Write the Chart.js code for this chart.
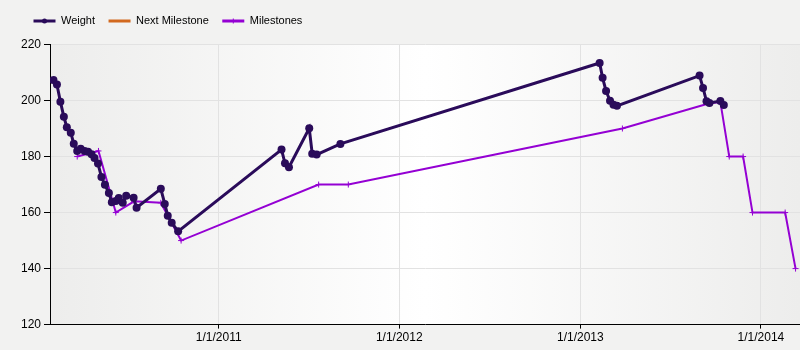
<!DOCTYPE html>
<html>
<head>
<meta charset="utf-8">
<script src="https://cdn.jsdelivr.net/npm/chart.js@4"></script>
<style>
  html, body { margin: 0; padding: 0; background: #f2f2f1; }
  #wrap { width: 800px; height: 350px; position: relative; }
</style>
</head>
<body>
<div id="wrap"><canvas id="c" width="800" height="350"></canvas></div>
<script>
// ---- data ----
const weightDates = [
  '2010-02-01','2010-02-08','2010-02-15','2010-02-22','2010-02-28','2010-03-08','2010-03-14',
  '2010-03-21','2010-03-28','2010-04-05','2010-04-12','2010-04-19','2010-04-25','2010-05-02',
  '2010-05-09','2010-05-16','2010-05-24','2010-05-30','2010-06-07','2010-06-13','2010-06-21',
  '2010-06-28','2010-07-13','2010-07-19','2010-09-06','2010-09-14','2010-09-20','2010-09-28',
  '2010-10-11',
  '2011-05-08','2011-05-15','2011-05-23','2011-07-03','2011-07-09','2011-07-18','2011-09-04',
  '2013-02-09','2013-02-15','2013-02-22','2013-03-02','2013-03-09','2013-03-16',
  '2013-08-30','2013-09-06','2013-09-13','2013-09-19','2013-10-11','2013-10-18'
];
const weightValues = [
  207.3, 205.7, 199.6, 194.2, 190.5, 188.5, 184.6,
  182.0, 182.8, 182.0, 181.7, 180.8, 179.5, 177.5,
  172.7, 169.9, 167.0, 163.7, 164.1, 165.2, 163.5,
  166.0, 165.3, 161.7, 168.5, 163.1, 158.9, 156.4,
  153.3,
  182.5, 177.6, 176.2, 190.1, 181.0, 180.7, 184.5,
  213.4, 208.1, 203.4, 199.9, 198.5, 198.1,
  208.9, 204.5, 199.7, 199.1, 199.8, 198.4
];
const nextMilestoneDates = [];
const nextMilestoneValues = [];
const milestoneDates = [
  '2010-03-21','2010-05-03','2010-06-07','2010-07-14','2010-09-06','2010-10-17',
  '2011-07-22','2011-09-20','2013-03-27','2013-09-19','2013-10-11','2013-10-29',
  '2013-11-26','2013-12-15','2014-02-19','2014-03-12'
];
const milestoneValues = [
  180, 182, 160, 164, 163.5, 150,
  170, 170, 190, 199, 199.5, 180,
  180, 160, 160, 140
];
const xTickYears = [2011, 2012, 2013, 2014];
const xRange = ['2010-01-25', '2014-03-21'];
const yTicks = [120, 140, 160, 180, 200, 220];

// ---- helpers ----
function dayNum(s) {
  const p = s.split('-').map(Number);
  return Date.UTC(p[0], p[1] - 1, p[2]) / 86400000;
}
function pts(dates, vals) { return dates.map((d, i) => ({ x: dayNum(d), y: vals[i] })); }

const FONT = '"Liberation Sans", Arial, sans-serif';
const WEIGHT_COLOR = '#2a0b5a';
const NEXT_COLOR = '#d2691e';
const MILE_COLOR = '#9400d3';

const bgPlugin = {
  id: 'plotBg',
  beforeLayout(chart) {
    const lg = chart.legend;
    if (lg && !lg._patched) {
      const f = lg.fit.bind(lg);
      lg.fit = function () { f(); this.height += 8; };
      lg._patched = true;
    }
  },
  beforeDraw(chart) {
    const { ctx, chartArea: a } = chart;
    const g = ctx.createLinearGradient(a.left, 0, a.right, 0);
    g.addColorStop(0, '#ededec');
    g.addColorStop(0.5, '#ffffff');
    g.addColorStop(1, '#ededec');
    ctx.save();
    ctx.fillStyle = g;
    ctx.fillRect(a.left, a.top, a.right - a.left, a.bottom - a.top);
    ctx.restore();
  }
};

const legendMarkers = {
  id: 'legendMarkers',
  afterDraw(chart) {
    const boxes = chart.legend && chart.legend.legendHitBoxes;
    if (!boxes) return;
    const ctx = chart.ctx;
    const bw = chart.options.plugins.legend.labels.boxWidth;
    ctx.save();
    boxes.forEach((b, i) => {
      const cx = b.left + bw / 2;
      const cy = b.top + b.height / 2;
      if (i === 0) {
        ctx.fillStyle = WEIGHT_COLOR;
        ctx.beginPath(); ctx.arc(cx, cy, 2.5, 0, Math.PI * 2); ctx.fill();
      } else if (i === 2) {
        ctx.strokeStyle = MILE_COLOR; ctx.lineWidth = 1;
        ctx.beginPath(); ctx.moveTo(cx, cy - 2.5); ctx.lineTo(cx, cy + 2.5); ctx.stroke();
      }
    });
    ctx.restore();
  }
};

new Chart(document.getElementById('c'), {
  type: 'line',
  data: {
    datasets: [
      {
        label: 'Weight',
        data: pts(weightDates, weightValues),
        borderColor: WEIGHT_COLOR, backgroundColor: WEIGHT_COLOR,
        borderWidth: 3, pointRadius: 4, pointHoverRadius: 4,
        pointBackgroundColor: WEIGHT_COLOR, pointBorderWidth: 0, tension: 0
      },
      {
        label: 'Next Milestone',
        data: pts(nextMilestoneDates, nextMilestoneValues),
        borderColor: NEXT_COLOR, backgroundColor: NEXT_COLOR,
        borderWidth: 2, pointRadius: 0, tension: 0
      },
      {
        label: 'Milestones',
        data: pts(milestoneDates, milestoneValues),
        borderColor: MILE_COLOR, backgroundColor: MILE_COLOR,
        borderWidth: 2, pointStyle: 'cross', pointRadius: 3, pointHoverRadius: 3,
        pointBorderColor: MILE_COLOR, pointBorderWidth: 1, tension: 0
      }
    ]
  },
  options: {
    responsive: false,
    animation: false,
    events: [],
    layout: { autoPadding: false, padding: { left: 20, right: 0, top: 2, bottom: 3 } },
    plugins: {
      tooltip: { enabled: false },
      legend: {
        display: true,
        position: 'top',
        align: 'start',
        labels: {
          boxWidth: 22, boxHeight: 3, padding: 13.5,
          color: '#000', font: { family: FONT, size: 11 },
          generateLabels(chart) {
            return chart.data.datasets.map((ds, i) => ({
              text: ds.label, fillStyle: ds.borderColor, strokeStyle: ds.borderColor,
              lineWidth: 0, hidden: false, datasetIndex: i, fontColor: '#000'
            }));
          }
        }
      }
    },
    scales: {
      x: {
        type: 'linear',
        min: dayNum(xRange[0]),
        max: dayNum(xRange[1]),
        afterBuildTicks(scale) {
          scale.ticks = xTickYears.map(y => ({ value: Date.UTC(y, 0, 1) / 86400000 }));
        },
        afterFit(scale) { scale.paddingRight = 0; scale.paddingLeft = 0; },
        ticks: {
          autoSkip: false, maxRotation: 0, padding: 2,
          color: '#000', font: { family: FONT, size: 12 },
          callback(v) { return '1/1/' + new Date(v * 86400000).getUTCFullYear(); }
        },
        grid: { color: '#e2e2e2', tickColor: '#000', tickLength: 4 },
        border: { color: '#000', width: 1 }
      },
      y: {
        type: 'linear',
        min: yTicks[0], max: yTicks[yTicks.length - 1],
        afterBuildTicks(scale) { scale.ticks = yTicks.map(v => ({ value: v })); },
        afterFit(scale) { scale.width = 30; scale.paddingTop = 0; scale.paddingBottom = 0; },
        ticks: { padding: 3, color: '#000', font: { family: FONT, size: 12 } },
        grid: { color: '#e2e2e2', tickColor: '#000', tickLength: 6 },
        border: { color: '#000', width: 1 }
      }
    }
  },
  plugins: [bgPlugin, legendMarkers]
});
</script>
</body>
</html>
